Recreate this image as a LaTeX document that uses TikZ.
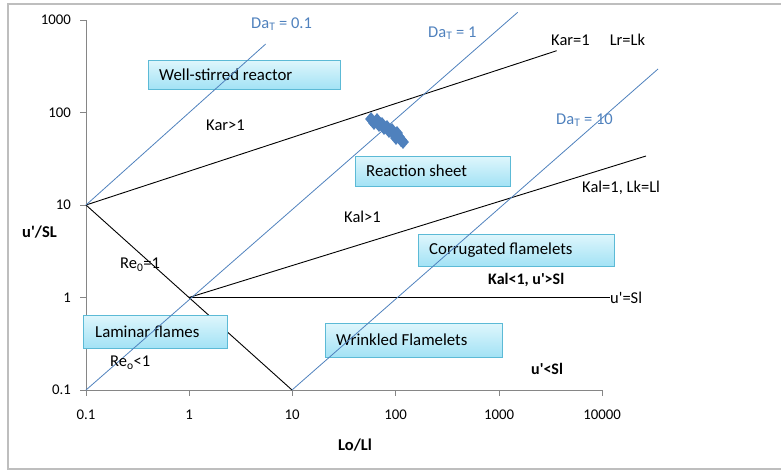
\documentclass[tikz,border=0pt]{standalone}
\usepackage{fontspec}
\setmainfont{Carlito}
\usetikzlibrary{shapes.geometric}
\definecolor{dablue}{RGB}{79,129,189}
\definecolor{axgray}{RGB}{134,134,134}
\definecolor{framegray}{RGB}{190,190,190}
\definecolor{boxtop}{RGB}{222,246,252}
\definecolor{boxbot}{RGB}{162,226,245}
\definecolor{boxline}{RGB}{92,186,214}
\newcommand{\ap}{\textquotesingle}
\tikzset{
  lbl/.style={inner sep=0pt, anchor=west, font=\fontsize{16.5}{18}\selectfont},
  tick/.style={inner sep=0pt, font=\fontsize{14.8}{16}\selectfont},
  regbox/.style={draw=boxline, line width=0.8pt, top color=boxtop, bottom color=boxbot, anchor=north west, inner sep=0pt, text depth=0pt},
  boxtxt/.style={inner sep=0pt, anchor=west, font=\fontsize{16.8}{18}\selectfont},
  blk/.style={black, line width=0.9pt},
  bl/.style={dablue, line width=0.8pt},
  mk/.style={diamond, fill=dablue, inner sep=0pt, minimum width=12pt, minimum height=14pt},
}
\begin{document}
\begin{tikzpicture}[x=1pt,y=-1pt]
\useasboundingbox (0,0) rectangle (781,472);
% outer frame
\draw[framegray, line width=1.2pt] (8,4) rectangle (790,469);
% axes
\coordinate (o) at (86,390);
\coordinate (yt) at (86,20);
\coordinate (xr) at (602,390);
\draw[axgray, line width=0.9pt] (yt) -- (o) -- (xr);
\foreach \y/\t in {20/1000,112.5/100,205/10,297.5/1,390/0.1}{
  \draw[axgray, line width=0.9pt] (80,\y) -- (86,\y);
  \node[tick, anchor=east] (yl\t) at (71,\y) {\t};
}
\foreach \x/\t in {86/0.1,189/1,292/10,395.5/100,499/1000,602/10000}{
  \draw[axgray, line width=0.9pt] (\x,390) -- (\x,396);
  \node[tick] (xl\t) at (\x,415) {\t};
}
% key points
\coordinate (p10) at (86,205);
\coordinate (p11) at (189,297.5);
\coordinate (pRe) at (292,390);
\coordinate (karE) at (556.7,50.7);
\coordinate (kalE) at (646,156);
\coordinate (usE) at (610,297.5);
% black lines
\draw[blk] (p10) -- (karE);
\draw[blk] (p10) -- (pRe);
\draw[blk] (p11) -- (kalE);
\draw[blk] (p11) -- (usE);
% boxes
\node[regbox, minimum width=192pt, minimum height=29pt] (bws) at (148,60) {};
\node[boxtxt] (tws) at (159,74.5) {Well-stirred reactor};
\node[regbox, minimum width=155pt, minimum height=30pt] (brs) at (355,156) {};
\node[boxtxt] (trs) at (366,171) {Reaction sheet};
\node[regbox, minimum width=196pt, minimum height=32pt] (bcf) at (418,234) {};
\node[boxtxt] (tcf) at (429,250) {Corrugated flamelets};
\node[regbox, minimum width=144pt, minimum height=33pt] (blf) at (83,315) {};
\node[boxtxt] (tlf) at (95,331.5) {Laminar flames};
\node[regbox, minimum width=177pt, minimum height=34pt] (bwf) at (325,323) {};
\node[boxtxt] (twf) at (336,340) {Wrinkled Flamelets};
% blue lines
\coordinate (d01s) at (86,205);
\coordinate (d01e) at (265.7,44);
\coordinate (d1s) at (86,390);
\coordinate (d1e) at (517.7,12.3);
\coordinate (d10s) at (292,390);
\coordinate (d10e) at (658,69);
\draw[bl] (d01s) -- (d01e);
\draw[bl] (d1s) -- (d1e);
\draw[bl] (d10s) -- (d10e);
% markers
\foreach \i/\px/\py in {1/371/119,2/374/123,3/377/120,4/379/125,5/382/124,6/384/128,7/387/127,8/389/131,9/392/130,10/394/134,11/397/133,12/399/137,13/401/140,14/403/142,15/396/138}{
  \node[mk] (m\i) at (\px,\py) {};
}
% Da labels
\node[lbl, text=dablue] (da01) at (251,24) {Da\textsubscript{T} = 0.1};
\node[lbl, text=dablue] (da1) at (428,33) {Da\textsubscript{T} = 1};
\node[lbl, text=dablue] (da10) at (556,120) {Da\textsubscript{T} = 10};
% other labels
\node[lbl] (kar) at (551,40) {Kar=1\hspace{20pt}Lr=Lk};
\node[lbl] (kargt) at (206,125) {Kar>1};
\node[lbl] (kalgt) at (344,217) {Kal>1};
\node[lbl] (kaleq) at (582,188) {Kal=1, Lk=Ll};
\node[lbl, font=\fontsize{16}{18}\selectfont\bfseries] (kallt) at (488,280) {Kal<1, u\ap>Sl};
\node[lbl] (useq) at (610,298) {u\ap=Sl};
\node[lbl, font=\fontsize{16}{18}\selectfont\bfseries] (uslt) at (531,369) {u\ap<Sl};
\node[lbl] (re1) at (120,265) {Re\textsubscript{0}=1};
\node[lbl] (relt) at (110,363) {Re\textsubscript{o}<1};
\node[lbl, font=\fontsize{16.5}{18}\selectfont\bfseries] (ylab) at (22,232) {u\ap/SL};
\node[lbl, anchor=center, font=\fontsize{16.5}{18}\selectfont\bfseries] (xlab) at (355,445) {Lo/Ll};
\end{tikzpicture}
\end{document}
